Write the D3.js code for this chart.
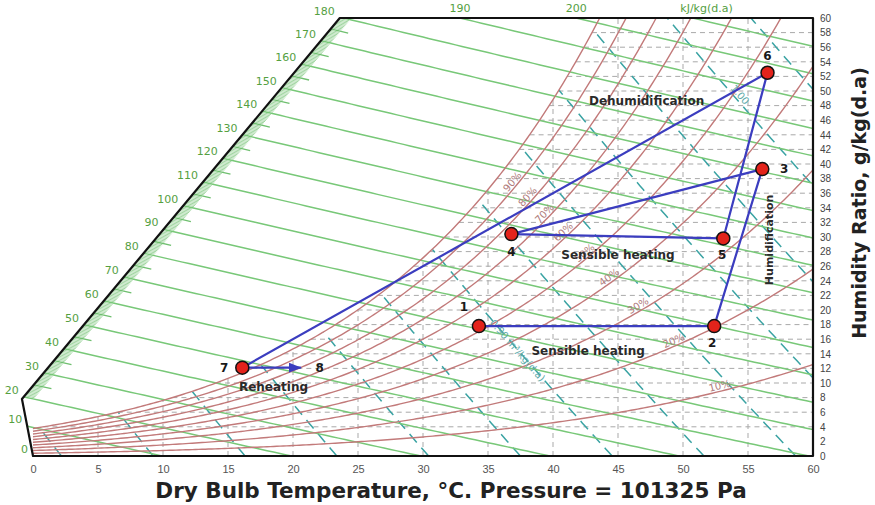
<!DOCTYPE html>
<html>
<head>
<meta charset="utf-8">
<script src="https://cdn.jsdelivr.net/npm/d3@7"></script>
<style>
  html, body { margin: 0; padding: 0; background: #fff; }
  svg { display: block; font-family: "DejaVu Sans", Verdana, sans-serif; }
</style>
</head>
<body>
<svg id="chart" width="875" height="505"></svg>
<script>
// process states (dry bulb °C, humidity ratio g/kg)
const stateNames = ['1', '2', '3', '4', '5', '6', '7', '8'];
const stateDryBulb = [34.3, 52.4, 56.1, 36.8, 53.1, 56.5, 16.1, 20.6];
const stateHumidity = [17.8, 17.8, 39.3, 30.4, 29.8, 52.5, 12.1, 12.1];

// process names and where they are written (dry bulb, humidity ratio)
const processTexts = ['Dehumidification', 'Sensible heating', 'Sensible heating', 'Reheating', 'Humidification'];
const processTextT = [47.2, 45.0, 42.7, 18.5, 56.6];
const processTextW = [48.6, 27.5, 14.4, 9.5, 29.6];

// chart grid
const rhLevels = [10, 20, 30, 40, 50, 60, 70, 80, 90, 100];
const rhLabels = ['10%', '20%', '30%', '40%', '50%', '60%', '70%', '80%', '90%'];
const enthalpyLevels = d3.range(0, 211, 10);
const enthalpyTopLabels = ['190', '200', 'kJ/kg(d.a)'];
const volumeLevels = [0.78, 0.80, 0.82, 0.84, 0.86, 0.88, 0.90, 0.92, 0.94, 0.96, 0.98, 1.00, 1.02];
const volumeLabels = ['0.90 m³/kg(d.a)', '1.00'];
const xTicks = d3.range(0, 61, 5);
const yTicks = d3.range(0, 61, 2);

// chart outline in data units: the slanted left edge carries the enthalpy scale
const frameCorners = [[0, 0], [60, 0], [60, 60], [23.6, 60], [-0.85, 7.8]];

const P = 101.325;        // kPa
const LATENT = 2555;      // fitted to where this chart puts its enthalpy lines

const pws = t => 0.61094 * Math.exp(17.625 * t / (t + 243.04));
const wFromRh = (t, rh) => { const pv = rh / 100 * pws(t); return 622 * pv / (P - pv); };
const wFromH = (t, h) => 1000 * (h - 1.006 * t) / (LATENT + 1.86 * t);
const hAt = (t, w) => 1.006 * t + w / 1000 * (LATENT + 1.86 * t);
const tFromV = (w, v) => v * P / (0.287042 * (1 + 1.607858 * w / 1000)) - 273.15;

function bisect(f, a, b) {
  let fa = f(a);
  for (let i = 0; i < 60; i++) {
    const m = (a + b) / 2, fm = f(m);
    if ((fm > 0) === (fa > 0)) { a = m; fa = fm; } else { b = m; }
  }
  return (a + b) / 2;
}

const svg = d3.select('#chart');
const x = d3.scaleLinear().domain([0, 60]).range([33, 813]);
const y = d3.scaleLinear().domain([0, 60]).range([456, 18]);
const line = d3.line().x(d => x(d[0])).y(d => y(d[1]));

// saturation curve up to the top of the chart
const tTop = bisect(t => wFromRh(t, 100) - 60, 0, 60);
const satPts = d3.range(0, tTop, 0.25).map(t => [t, wFromRh(t, 100)]).concat([[tTop, 60]]);

const defs = svg.append('defs');
defs.append('clipPath').attr('id', 'frameClip')
  .append('path').attr('d', line(frameCorners) + 'Z');
defs.append('clipPath').attr('id', 'satClip')
  .append('path').attr('d', line(satPts.concat([[60, 60], [60, 0], [0, 0]])) + 'Z');
defs.append('marker')
  .attr('id', 'arrow')
  .attr('markerUnits', 'userSpaceOnUse')
  .attr('markerWidth', 14).attr('markerHeight', 10)
  .attr('refX', 12).attr('refY', 5)
  .attr('orient', 'auto')
  .append('path').attr('d', 'M0,0 L13,5 L0,10 Z').attr('fill', '#3b3dbf');

// gray dashed dry bulb / humidity grid under the saturation curve
const grid = svg.append('g')
  .attr('stroke', '#a9a9a9').attr('stroke-width', 1).attr('stroke-dasharray', '5,4');
xTicks.filter(t => t > 0 && t < 60).forEach(t => {
  grid.append('path').attr('d', line([[t, 0], [t, Math.min(60, wFromRh(t, 100))]]));
});
yTicks.filter(w => w > 0 && w < 60).forEach(w => {
  const t0 = bisect(t => wFromRh(t, 100) - w, 0, 60);
  grid.append('path').attr('d', line([[t0, w], [60, w]]));
});

// specific volume lines
const volG = svg.append('g').attr('clip-path', 'url(#frameClip)');
const volInner = volG.append('g').attr('clip-path', 'url(#satClip)');
volumeLevels.forEach(v => {
  const wEnd = bisect(w => wFromRh(tFromV(w, v), 100) - w, 0, 150);
  const pts = d3.range(0, wEnd, 0.5).map(w => [tFromV(w, v), w]).concat([[tFromV(wEnd, v), wEnd]]);
  volInner.append('path')
    .attr('d', line(pts))
    .attr('fill', 'none')
    .attr('stroke', '#3aa3a3')
    .attr('stroke-width', 1.5)
    .attr('stroke-dasharray', '11,7');
});

// enthalpy lines
const frameLeft = [frameCorners[0], frameCorners[4], frameCorners[3]];
function enthalpyStart(h) {
  for (let i = 0; i < frameLeft.length - 1; i++) {
    const a = frameLeft[i], b = frameLeft[i + 1];
    const pt = s => [a[0] + (b[0] - a[0]) * s, a[1] + (b[1] - a[1]) * s];
    const ha = hAt(...a), hb = hAt(...b);
    if (h >= Math.min(ha, hb) && h <= Math.max(ha, hb)) {
      return pt(bisect(s => hAt(...pt(s)) - h, 0, 1));
    }
  }
  return null;
}

const hG = svg.append('g').attr('clip-path', 'url(#frameClip)');
enthalpyLevels.forEach(h => {
  const pts = d3.range(-2, 60.01, 0.5).map(t => [t, wFromH(t, h)]).filter(d => d[1] > -5 && d[1] < 75);
  hG.append('path')
    .attr('d', line(pts))
    .attr('fill', 'none')
    .attr('stroke', '#78c878')
    .attr('stroke-width', 1.5);
});

// enthalpy scale hatching along the slanted edge
const hatch = svg.append('g').attr('clip-path', 'url(#frameClip)');
d3.range(20, 180.5, 0.5).filter(h => h % 10 !== 0).forEach(h => {
  const p = enthalpyStart(h);
  if (!p) return;
  const x0 = x(p[0]), y0 = y(p[1]);
  const x1 = x(p[0] + 1), y1 = y(wFromH(p[0] + 1, h));
  const len = Math.hypot(x1 - x0, y1 - y0);
  const major = h % 5 === 0;
  const tick = major ? 18 : 10;
  hatch.append('line')
    .attr('x1', x0).attr('y1', y0)
    .attr('x2', x0 + (x1 - x0) / len * tick)
    .attr('y2', y0 + (y1 - y0) / len * tick)
    .attr('stroke', major ? '#6fbf6f' : '#a2d6a2')
    .attr('stroke-width', major ? 1.3 : 1);
});

// relative humidity curves
const rhG = svg.append('g').attr('clip-path', 'url(#frameClip)');
rhLevels.forEach(rh => {
  const pts = d3.range(0, 60.01, 0.25).map(t => [t, wFromRh(t, rh)]).filter(d => d[1] < 75);
  rhG.append('path')
    .attr('d', line(pts))
    .attr('fill', 'none')
    .attr('stroke', '#c27a7a')
    .attr('stroke-width', 1.4);
});

// relative humidity labels along a guide line across the curves
const guide = s => [35.8 + 16.5 * s, 39.6 - 29.6 * s];
rhLabels.forEach((lab, i) => {
  const rh = rhLevels[i];
  const s = bisect(s => wFromRh(guide(s)[0], rh) - guide(s)[1], -0.6, 1.6);
  const t = guide(s)[0], w = wFromRh(t, rh);
  const ang = Math.atan2(y(wFromRh(t + 0.5, rh)) - y(wFromRh(t - 0.5, rh)), x(t + 0.5) - x(t - 0.5)) * 180 / Math.PI;
  svg.append('text')
    .attr('transform', `translate(${x(t)},${y(w)}) rotate(${ang})`)
    .attr('dy', -2)
    .attr('text-anchor', 'middle')
    .attr('fill', '#b07c7c')
    .style('font-size', '10px')
    .text(lab);
});

// specific volume labels
[[0.90, 14.5, 6], [1.00, 49.0, 0]].forEach(([v, w, dy], i) => {
  const t = tFromV(w, v);
  const ang = Math.atan2(y(w - 1) - y(w + 1), x(tFromV(w - 1, v)) - x(tFromV(w + 1, v))) * 180 / Math.PI;
  svg.append('text')
    .attr('transform', `translate(${x(t)},${y(w)}) rotate(${ang})`)
    .attr('dy', dy - 2)
    .attr('text-anchor', 'middle')
    .attr('fill', '#5aa9a9')
    .style('font-size', '10px')
    .text(volumeLabels[i]);
});

// enthalpy labels
const hLabels = svg.append('g').attr('fill', '#55a03f').style('font-size', '11px');
enthalpyLevels.filter(h => h <= 180).forEach(h => {
  const p = enthalpyStart(h) || frameCorners[3];
  hLabels.append('text')
    .attr('x', x(p[0]) - 5)
    .attr('y', y(p[1]) - 3)
    .attr('text-anchor', 'end')
    .text(h);
});
enthalpyLevels.filter(h => h > 180).forEach((h, i) => {
  const t = (h - 0.06 * LATENT) / (1.006 + 0.06 * 1.86);
  hLabels.append('text')
    .attr('x', x(t) + (i === 2 ? 14 : 0))
    .attr('y', y(60) - 6)
    .attr('text-anchor', 'middle')
    .text(enthalpyTopLabels[i]);
});

// outline
svg.append('path')
  .attr('d', line(frameCorners) + 'Z')
  .attr('fill', 'none')
  .attr('stroke', '#111')
  .attr('stroke-width', 2.2)
  .attr('stroke-linejoin', 'round');

// axes
const xAxis = svg.append('g')
  .attr('transform', `translate(0,${y(0)})`)
  .call(d3.axisBottom(x).tickValues(xTicks).tickSize(0).tickPadding(9));
xAxis.select('.domain').remove();
xAxis.selectAll('text').attr('fill', '#555').style('font-size', '11px');

const yAxis = svg.append('g')
  .attr('transform', `translate(${x(60)},0)`)
  .call(d3.axisRight(y).tickValues(yTicks).tickSize(0).tickPadding(7));
yAxis.select('.domain').remove();
yAxis.selectAll('text').attr('fill', '#444').style('font-size', '10px');

svg.append('text')
  .attr('x', 451).attr('y', 498)
  .attr('text-anchor', 'middle')
  .attr('fill', '#222')
  .style('font-size', '21.5px').style('font-weight', 'bold')
  .text('Dry Bulb Temperature, °C. Pressure = 101325 Pa');

svg.append('text')
  .attr('transform', 'translate(866,203) rotate(-90)')
  .attr('text-anchor', 'middle')
  .attr('fill', '#222')
  .style('font-size', '19px').style('font-weight', 'bold')
  .text('Humidity Ratio, g/kg(d.a)');

// process lines
const states = stateNames.map((n, i) => [stateDryBulb[i], stateHumidity[i]]);
svg.append('path')
  .attr('d', line(states.slice(0, -1)))
  .attr('fill', 'none')
  .attr('stroke', '#3b3dbf')
  .attr('stroke-width', 2.2)
  .attr('stroke-linejoin', 'round');
svg.append('path')
  .attr('d', line(states.slice(-2)))
  .attr('fill', 'none')
  .attr('stroke', '#3b3dbf')
  .attr('stroke-width', 2.2)
  .attr('marker-end', 'url(#arrow)');

svg.append('g').selectAll('circle')
  .data(states.slice(0, -1))
  .join('circle')
  .attr('cx', d => x(d[0]))
  .attr('cy', d => y(d[1]))
  .attr('r', 6.5)
  .attr('fill', '#e3231b')
  .attr('stroke', '#111')
  .attr('stroke-width', 1.5);

// state numbers
const numberOffsets = [[-15, -19], [-2, 17], [22, 0], [0, 18], [-1, 16], [0, -17], [-18, 0], [19, 0]];
svg.append('g').selectAll('text')
  .data(stateNames)
  .join('text')
  .attr('x', (d, i) => x(stateDryBulb[i]) + numberOffsets[i][0])
  .attr('y', (d, i) => y(stateHumidity[i]) + numberOffsets[i][1])
  .attr('dy', '0.35em')
  .attr('text-anchor', 'middle')
  .attr('fill', '#1a1a1a')
  .style('font-size', '12px').style('font-weight', 'bold')
  .text(d => d);

// process names
svg.append('g').selectAll('text')
  .data(processTexts)
  .join('text')
  .attr('transform', (d, i) => `translate(${x(processTextT[i])},${y(processTextW[i])})` + (d === 'Humidification' ? ' rotate(-90)' : ''))
  .attr('dy', '0.35em')
  .attr('text-anchor', 'middle')
  .attr('fill', '#2a2a2a')
  .style('font-size', (d, i) => d === 'Humidification' ? '11px' : '12px')
  .style('font-weight', 'bold')
  .text(d => d);
</script>
</body>
</html>
